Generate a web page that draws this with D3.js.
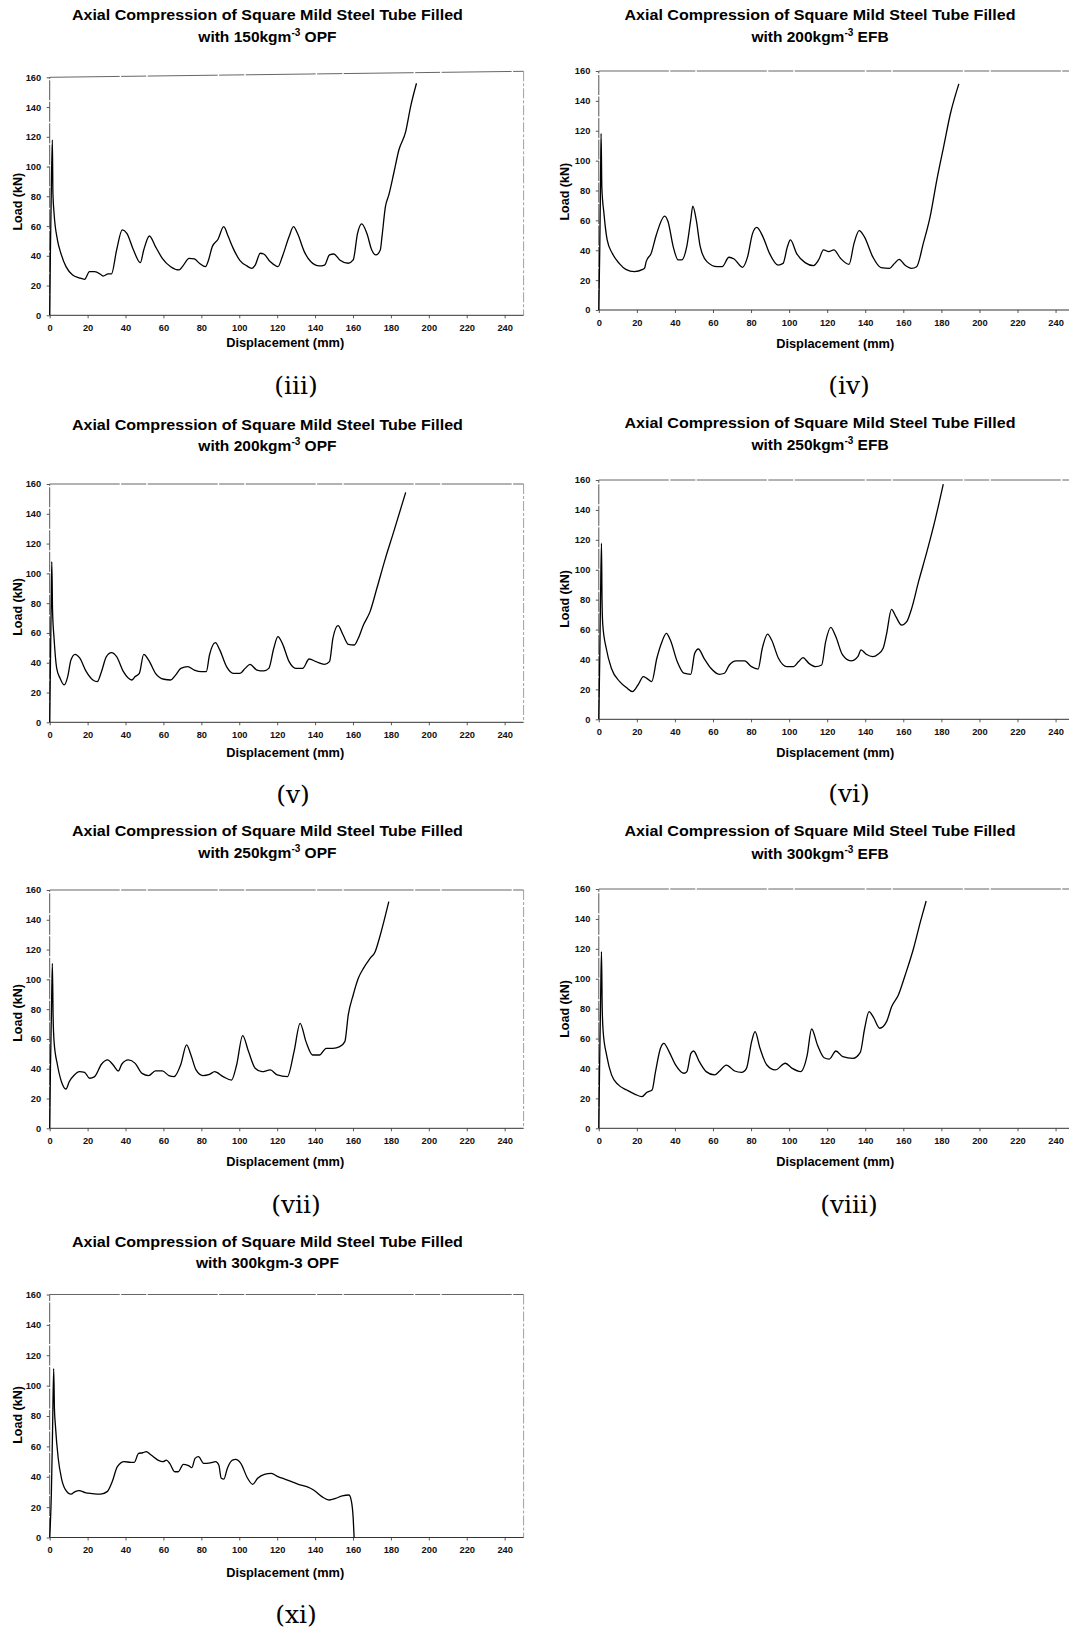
<!DOCTYPE html>
<html>
<head>
<meta charset="utf-8">
<script src="https://cdn.jsdelivr.net/npm/d3@7"></script>
<style>
  body { margin: 0; background: #fff; }
  svg { display: block; }
</style>
</head>
<body>
<svg id="chart" width="1069" height="1629"></svg>
<script>
// ---------------- DATA ----------------
const xTickValues = [0, 20, 40, 60, 80, 100, 120, 140, 160, 180, 200, 220, 240];
const yTickValues = [0, 20, 40, 60, 80, 100, 120, 140, 160];

const titleLine1 = "Axial Compression of Square Mild Steel Tube Filled";
const xAxisTitle = "Displacement (mm)";
const yAxisTitle = "Load (kN)";

const panelIds      = ["iii", "iv", "v", "vi", "vii", "viii", "xi"];
const panelDensity  = ["150", "200", "200", "250", "250", "300", "300"];
const panelFiller   = ["OPF", "EFB", "OPF", "EFB", "OPF", "EFB", "OPF"];
const panelCaptions = ["(iii)", "(iv)", "(v)", "(vi)", "(vii)", "(viii)", "(xi)"];

// [displacement (mm), load (kN)]
const curve_iii = [[0,0],[0.4,45],[0.9,88],[1.4,118],[1.7,82],[2.3,68.6],[4.1,50.6],[5.9,41.7],[8.6,32.7],[12.1,27.1],[15.5,25.2],[18.4,24.2],[21,29.4],[23.7,29.4],[27.3,27.1],[28.2,26.4],[30.8,27.8],[32.6,27.8],[35.3,43.9],[38.3,57.4],[40.7,55.1],[44.2,43.9],[47.8,35.4],[49.6,43.9],[52.6,53.3],[55.8,46.2],[59.4,38.3],[63.8,32.7],[68.3,30.5],[70,32.7],[73.6,38.3],[76.3,37.9],[79,35],[82.2,32.7],[83.5,36],[85.8,46.2],[88.8,51.1],[91.8,59.6],[94.2,52.9],[96.8,45],[100.4,36.8],[104,33.2],[106.6,31.6],[108.4,33.8],[111.1,41.7],[112.9,41.2],[116.4,36],[120.4,32.7],[122.7,39.4],[126.3,52.9],[128.6,59.6],[130.7,55.1],[134.3,42.8],[137.8,36],[142.3,33.2],[145,33.8],[147.6,40.6],[149.9,41.2],[153,37.2],[157.5,35],[160.1,37.2],[162.4,55.1],[164.6,61.4],[167.3,55.1],[169.9,43.9],[172.1,40.6],[174.4,43.9],[175.3,52.9],[177.1,73],[178.9,80.9],[181.5,95.5],[184.2,111.1],[187.8,123.5],[190.4,140.3],[193.5,156]];

const curve_iv = [[0,0],[0.5,40],[0.9,85],[1.2,118.3],[1.6,82],[2.7,64.7],[4.4,46.9],[7.1,37.9],[10.7,31.2],[14.2,27.2],[18.7,25.7],[23.1,27.2],[24,27.9],[24.9,32.4],[27.5,37.9],[30.2,50.2],[34.6,62.9],[36.4,59.1],[39.1,42.4],[41.7,33.5],[43.5,33.5],[46.2,42.4],[48.3,60.3],[49.4,69.6],[51.2,60.3],[53.3,42.4],[56.8,32.4],[62.2,29],[64.8,29],[68.4,35.3],[71.1,34.1],[75.5,28.6],[78.2,35.7],[80.8,51.3],[83,55.3],[86.2,49.1],[89.7,37.9],[94.2,30.1],[96.8,31.2],[99.1,42.4],[100.7,46.9],[103.9,37.9],[108.4,31.7],[112.8,29.7],[115.5,33.5],[118.1,40.2],[120.8,39.1],[123.5,40.2],[127,34.6],[131.5,30.6],[134.1,44.6],[136.8,53.1],[139.5,49.1],[143.9,35.7],[148.3,28.3],[152.8,27.9],[155.4,31.2],[157.8,33.9],[160.8,30.1],[164.3,27.9],[167,29],[170.5,44.6],[174.1,62.5],[177.6,87],[181.2,109.4],[184.8,131.7],[189.2,151.4]];

const curve_v = [[0,0],[0.4,40],[0.8,81],[1.1,107.9],[1.5,75],[2.3,56.4],[3.7,36.2],[5.5,29.5],[7.7,25.1],[9.5,30.7],[11.2,41.8],[13.4,45.6],[15.7,43.4],[19.3,34],[22.8,28.4],[25.1,27.3],[27.3,34],[29.9,44.1],[32.6,46.8],[35.3,44.1],[38.9,34],[43.3,28.4],[45.1,30.7],[47.3,32.9],[49.6,45.6],[52.2,41.8],[55.8,32.9],[60.3,28.9],[63.8,28.4],[66.5,31.8],[69.2,36.2],[72.8,37.4],[76.3,35.1],[79.9,34],[82.6,34],[84.3,45.2],[87.4,53.5],[89.7,48.6],[93.3,37.4],[96.8,32.9],[100.4,32.9],[103.1,36.2],[105.7,38.9],[109.3,35.1],[112.9,34.5],[115.6,36.2],[118.2,49.7],[120.4,57.5],[122.7,53],[126.3,40.7],[129.8,36.2],[133.4,36.2],[136.9,42.5],[140.5,40.7],[145,38.9],[147.6,40.7],[149.4,56.4],[152.1,64.9],[154.8,58.6],[157.5,52.4],[160.7,51.9],[162.8,56.4],[165.5,65.3],[169,74.3],[172.6,90],[177.1,110.1],[181.5,128],[187.8,154.4]];

const curve_vi = [[0,0],[0.5,40],[0.9,80],[1.4,117.7],[1.7,80],[2.1,63],[3.9,47.5],[6.6,34.1],[11,25.2],[14.5,21.2],[17.7,18.5],[20.8,23.4],[23.4,28.5],[25.2,27.4],[27.8,25.2],[30.5,40.8],[33.2,51.9],[35.5,57.5],[37.6,53],[41.2,38.6],[44.7,30.8],[48.3,30.1],[50.4,44.1],[52.3,47],[55.3,40.8],[58.9,34.1],[63.3,30.1],[66,30.8],[68.6,36.3],[72.2,39],[76.6,39],[80.2,35.2],[83.7,33.6],[85.9,47.5],[88.7,57],[90.8,53],[94.4,40.8],[98.8,35.2],[102.4,35.2],[105,38.6],[107.3,41.2],[110.4,37.4],[113.9,35.2],[117.1,36.3],[119.2,51.9],[121.9,61.5],[124.5,55.3],[128.1,43],[132.5,39],[136.1,41.9],[137.8,46.4],[140.5,43.5],[144,41.9],[146.7,43.5],[149.4,47.5],[151.1,56.4],[153.8,73.5],[156.1,68.6],[159.1,63],[161.8,65.3],[164.4,74.2],[168,92],[172.4,112.1],[176.9,134.4],[181,157.3]];

const curve_vii = [[0,0],[0.4,40],[0.9,76],[1.4,110.8],[1.8,75],[2.3,58.2],[4.1,42.5],[6.2,31.3],[8.6,26.4],[10.3,31.3],[13,35.8],[15.7,38],[18.4,37.6],[21,33.6],[23.7,34.7],[27.3,43],[30.5,45.9],[33.5,42.5],[36.2,38.5],[38,43],[41.5,45.9],[45.1,43.6],[48.7,36.9],[52.2,35.4],[55.8,38.5],[59.4,38.5],[62.9,35.4],[65.6,34.7],[69.2,43],[72.2,56],[74.5,49.2],[77.2,39.2],[80.8,35.4],[84.3,36.2],[87,38],[91.5,34.7],[95.9,32.4],[98.6,42.5],[101.8,62.2],[104.9,51.5],[108.4,40.3],[112,38],[116.4,39.2],[120,35.8],[125.4,34.7],[128.9,51.5],[132.1,70.5],[135.2,58.2],[138.7,49.2],[142.3,49.2],[145.9,53.7],[149.4,53.7],[153,54.8],[155.7,58.2],[157.5,76.1],[160.1,89.5],[162.8,100.7],[165.5,107.4],[169,114.1],[171.7,118.6],[174.4,129.8],[178.9,152.2]];

const curve_viii = [[0,0],[0.4,40],[0.9,82],[1.4,118.1],[1.8,80],[2.3,64.6],[4.1,49],[6.7,35.7],[10.3,29],[14.7,25.6],[19.1,22.7],[22.7,21.2],[25.3,24.1],[28,25.6],[29.8,37.9],[32.4,53.5],[34.2,56.8],[36.9,51.3],[40.4,42.3],[44.8,36.8],[46.3,37.9],[48.4,50.1],[49.8,51.7],[52.8,44.6],[56.4,37.9],[60.8,35.7],[63.5,38.3],[67,42.3],[71.4,38.3],[75,37.4],[77.6,40.1],[80.3,57.9],[82.1,64.6],[84.7,53.5],[88.3,42.3],[92.7,39],[98,43.5],[101.6,40.1],[106,37.9],[109.5,49],[111.8,66.4],[114.9,55.7],[118.4,47.2],[121.1,46.3],[124.6,51.7],[128.2,47.9],[133.5,46.8],[137.4,50.8],[139.7,66.9],[142,78],[144.1,74.7],[147.6,66.9],[151.2,71.3],[153.9,81.4],[157.4,89.1],[161,102.5],[165.4,120.4],[169,138.2],[172,152]];

const curve_xi = [[0,0],[0.9,30],[1.5,70],[2.1,111.2],[2.5,85],[3,74],[4.5,52],[6.2,39],[8.4,31.3],[11.2,28.5],[13.4,30.2],[15.5,30.9],[18.7,29.5],[22.3,28.9],[26.8,28.5],[30.3,30.2],[33,36.8],[35.7,46.6],[39.3,49.9],[42.8,49.5],[44.6,49.5],[46.9,55.4],[49.1,55.8],[50.9,56.5],[53.5,54.3],[57.1,51],[59.8,49.9],[61.6,51],[63.3,48.8],[66,43.3],[67.8,43.3],[70.5,48.2],[73.2,47.3],[75,46],[76.7,52.1],[78.5,53.2],[81.2,48.8],[84.8,49.2],[87.5,49.9],[89.2,47.7],[90.5,39],[91.9,38.5],[93.7,45.5],[96.4,51],[98.1,51.4],[100.8,48.8],[104.4,39],[107.1,35],[109.7,39],[113.3,41.6],[116.9,42.2],[120.4,40.1],[124,38.5],[127.6,36.8],[131.2,35],[135.6,33.5],[139.2,31.3],[143.6,26.9],[147.6,24.7],[150.8,25.8],[154.3,27.4],[157.9,28],[159.2,23.6],[160.1,12.7],[160.6,0]];

const curves = [curve_iii, curve_iv, curve_v, curve_vi, curve_vii, curve_viii, curve_xi];

// ---------------- LAYOUT ----------------
const LEFT = { x0: 49.7, right: 523.6, titleX: 267.4, ylabX: 22, tilt: 0 };
const RIGHT = { x0: 598.8, right: 1074.6, titleX: 820, ylabX: 568.5, tilt: 0 };
const layout = [
  Object.assign({}, LEFT,  { y0: 315.3, y160: 77.3,  t1: 20,     t2: 41.7,   xlabY: 347,  ylabY: 201.7, capX: 296, capY: 393.5, tilt: -6 }),
  Object.assign({}, RIGHT, { y0: 310,   y160: 71,    t1: 20,     t2: 41.7,   xlabY: 348,  ylabY: 191.7, capX: 849, capY: 394 }),
  Object.assign({}, LEFT,  { y0: 722.3, y160: 484,   t1: 429.7,  t2: 451.4,  xlabY: 757,  ylabY: 607,   capX: 293, capY: 802.5 }),
  Object.assign({}, RIGHT, { y0: 719.3, y160: 480,   t1: 428,    t2: 449.7,  xlabY: 757,  ylabY: 599,   capX: 849, capY: 802 }),
  Object.assign({}, LEFT,  { y0: 1128.3,y160: 890,   t1: 836.4,  t2: 858,    xlabY: 1166, ylabY: 1013,  capX: 296, capY: 1213 }),
  Object.assign({}, RIGHT, { y0: 1128.3,y160: 889,   t1: 836.4,  t2: 859,    xlabY: 1166, ylabY: 1009,  capX: 849, capY: 1213 }),
  Object.assign({}, LEFT,  { y0: 1537.5,y160: 1294.5,t1: 1246.5, t2: 1268.4, xlabY: 1577, ylabY: 1415,  capX: 296, capY: 1623 })
];

const svg = d3.select("#chart");
svg.append("rect").attr("width", 1069).attr("height", 1629).attr("fill", "#fff");

const sans = "'Liberation Sans', Arial, Helvetica, sans-serif";
const serif = "'DejaVu Serif', 'Liberation Serif', serif";

panelIds.forEach((id, i) => {
  const L = layout[i];
  const g = svg.append("g").attr("class", "panel panel-" + id);

  const x = d3.scaleLinear().domain([0, 250]).range([L.x0, L.right]);
  const y = d3.scaleLinear().domain([0, 160]).range([L.y0, L.y160]);

  // frame (top/right light, scanned look)
  g.append("line").attr("x1", L.x0).attr("x2", L.right).attr("y1", y(160)).attr("y2", y(160) + L.tilt)
    .attr("stroke", "#555").attr("stroke-width", 0.9).attr("stroke-dasharray", "70,1.5,25,1.5");
  g.append("line").attr("x1", L.right).attr("x2", L.right).attr("y1", y(160) + L.tilt).attr("y2", y(0))
    .attr("stroke", "#888").attr("stroke-width", 0.8).attr("stroke-dasharray", "10,2,3,2");

  // axes
  const xAxis = d3.axisBottom(x).tickValues(xTickValues).tickSize(3).tickPadding(6).tickFormat(d3.format("d"));
  const yAxis = d3.axisLeft(y).tickValues(yTickValues).tickSize(3).tickPadding(5.5).tickFormat(d3.format("d"));

  const gx = g.append("g").attr("transform", `translate(0,${L.y0})`).call(xAxis);
  const gy = g.append("g").attr("transform", `translate(${L.x0},0)`).call(yAxis);
  [gx, gy].forEach(a => {
    a.select(".domain").remove();
    a.selectAll(".tick line").attr("stroke", "#444").attr("stroke-width", 0.9);
    a.selectAll(".tick text").attr("fill", "#111").style("font-family", sans)
      .style("font-size", "9.3px").style("font-weight", "bold");
  });

  g.append("line").attr("x1", L.x0).attr("x2", L.right).attr("y1", L.y0).attr("y2", L.y0)
    .attr("stroke", "#333").attr("stroke-width", 1);
  g.append("line").attr("x1", L.x0).attr("x2", L.x0).attr("y1", L.y0).attr("y2", y(160))
    .attr("stroke", "#555").attr("stroke-width", 1).attr("stroke-dasharray", "20,1.5");

  // curve
  const line = d3.line().x(d => x(d[0])).y(d => y(d[1])).curve(d3.curveMonotoneX);
  g.append("path").datum(curves[i]).attr("d", line)
    .attr("fill", "none").attr("stroke", "#000").attr("stroke-width", 1.3).attr("stroke-linejoin", "round");

  // title
  g.append("text").attr("x", L.titleX).attr("y", L.t1).attr("text-anchor", "middle")
    .style("font-family", sans).style("font-size", "15.5px").style("font-weight", "bold")
    .attr("textLength", 391).attr("lengthAdjust", "spacingAndGlyphs")
    .text(titleLine1);
  const t2 = g.append("text").attr("x", L.titleX).attr("y", L.t2).attr("text-anchor", "middle")
    .style("font-family", sans).style("font-size", "15.5px").style("font-weight", "bold");
  if (id === "xi") {
    t2.text(`with ${panelDensity[i]}kgm-3 ${panelFiller[i]}`);
  } else {
    t2.append("tspan").text(`with ${panelDensity[i]}kgm`);
    t2.append("tspan").attr("dy", -6).style("font-size", "10px").text("-3");
    t2.append("tspan").attr("dy", 6).text(" " + panelFiller[i]);
  }

  // axis titles
  g.append("text").attr("x", (L.x0 + L.right) / 2 - 1.5).attr("y", L.xlabY).attr("text-anchor", "middle")
    .style("font-family", sans).style("font-size", "12.5px").style("font-weight", "bold")
    .attr("textLength", 118).attr("lengthAdjust", "spacingAndGlyphs")
    .text(xAxisTitle);
  g.append("text").attr("transform", `translate(${L.ylabX},${L.ylabY}) rotate(-90)`).attr("text-anchor", "middle")
    .style("font-family", sans).style("font-size", "12.5px").style("font-weight", "bold")
    .text(yAxisTitle);

  // caption
  g.append("text").attr("x", L.capX).attr("y", L.capY).attr("text-anchor", "middle")
    .style("font-family", serif).style("font-size", "25px")
    .text(panelCaptions[i]);
});
</script>
</body>
</html>
